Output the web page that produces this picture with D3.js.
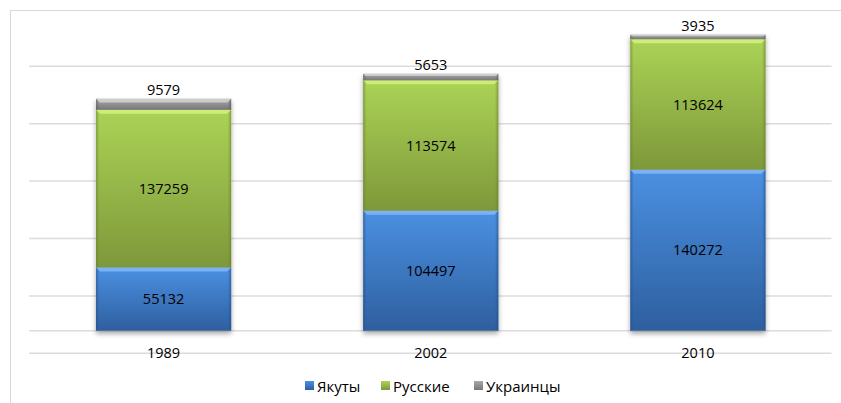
<!DOCTYPE html>
<html>
<head>
<meta charset="utf-8">
<script src="https://cdn.jsdelivr.net/npm/d3@7"></script>
<style>
  html, body { margin: 0; padding: 0; background: #fff; }
  svg { display: block; font-family: "Open Sans", "DejaVu Sans", sans-serif; }
</style>
</head>
<body>
<div id="chart"></div>
<script>
// ---------- Data ----------
const years     = ["1989", "2002", "2010"];
const seriesKeys = ["Якуты", "Русские", "Украинцы"];
const yakuts    = [55132, 104497, 140272];
const russians  = [137259, 113574, 113624];
const ukrainians = [9579, 5653, 3935];
const gridTicks = [0, 50000, 100000, 150000, 200000, 250000];

// ---------- Layout ----------
const width = 841, height = 403;
const plot = { left: 30, right: 831.5, base: 330.7, top: 43.7 };
const FLOOR_SHIFT = 22.6; // back-wall gridlines sit lower than the bars (3D look)

const palette = {
  "Якуты":    { top: "#4b90e2", bottom: "#2e5f9f", light: "#7fb6f5", dark: "#244d85" },
  "Русские":  { top: "#abd356", bottom: "#7e983a", light: "#d2f07c", dark: "#657d2a" },
  "Украинцы": { top: "#a8a8a8", bottom: "#777777", light: "#d0d0d0", dark: "#555555" }
};

const rows = years.map((y, i) => ({
  year: y,
  "Якуты": yakuts[i],
  "Русские": russians[i],
  "Украинцы": ukrainians[i]
}));

const stacked = d3.stack().keys(seriesKeys)(rows);

// ---------- Scales ----------
const x = d3.scaleBand()
  .domain(years)
  .range([plot.left, plot.right])
  .paddingInner(0.494)
  .paddingOuter(0.247);

const y = d3.scaleLinear()
  .domain([0, 250000])
  .range([plot.base, plot.top]);

// ---------- SVG ----------
const svg = d3.select("#chart").append("svg")
  .attr("width", width)
  .attr("height", height);

const defs = svg.append("defs");

seriesKeys.forEach((k, i) => {
  const c = palette[k];
  const grad = defs.append("linearGradient")
    .attr("id", `grad${i}`)
    .attr("x1", 0).attr("y1", 0).attr("x2", 0).attr("y2", 1);
  grad.append("stop").attr("offset", "0%").attr("stop-color", c.top);
  grad.append("stop").attr("offset", "100%").attr("stop-color", c.bottom);

  const side = defs.append("linearGradient")
    .attr("id", `side${i}`)
    .attr("x1", 0).attr("y1", 0).attr("x2", 1).attr("y2", 0);
  side.append("stop").attr("offset", "0%").attr("stop-color", c.dark).attr("stop-opacity", 0.55);
  side.append("stop").attr("offset", "2.5%").attr("stop-color", c.dark).attr("stop-opacity", 0);
  side.append("stop").attr("offset", "97.5%").attr("stop-color", c.dark).attr("stop-opacity", 0);
  side.append("stop").attr("offset", "100%").attr("stop-color", c.dark).attr("stop-opacity", 0.6);
});

const shadow = defs.append("filter")
  .attr("id", "shadow")
  .attr("x", "-10%").attr("y", "-10%")
  .attr("width", "120%").attr("height", "120%");
shadow.append("feDropShadow")
  .attr("dx", 0).attr("dy", 3)
  .attr("stdDeviation", 2.5)
  .attr("flood-color", "#000")
  .attr("flood-opacity", 0.35);

// outer frame
svg.append("rect")
  .attr("x", 10.5).attr("y", 10.5)
  .attr("width", 840).attr("height", 400)
  .attr("fill", "none")
  .attr("stroke", "#d9d9d9");

// ---------- Gridlines ----------
svg.append("g")
  .selectAll("line")
  .data(gridTicks)
  .join("line")
  .attr("x1", plot.left - 1)
  .attr("x2", plot.right)
  .attr("y1", d => y(d) + FLOOR_SHIFT)
  .attr("y2", d => y(d) + FLOOR_SHIFT)
  .attr("stroke", "#dcdcdc")
  .attr("stroke-width", 1.5);

// floor front edge
svg.append("line")
  .attr("x1", plot.left - 1)
  .attr("x2", plot.right)
  .attr("y1", y(0))
  .attr("y2", y(0))
  .attr("stroke", "#dcdcdc")
  .attr("stroke-width", 1.5);

// ---------- Bars ----------
const barsG = svg.append("g").attr("filter", "url(#shadow)");

stacked.forEach((layer, li) => {
  const c = palette[layer.key];
  const g = barsG.append("g").attr("class", "series");

  g.selectAll("rect.fill")
    .data(layer)
    .join("rect")
    .attr("class", "fill")
    .attr("x", d => x(d.data.year))
    .attr("width", x.bandwidth())
    .attr("y", d => y(d[1]))
    .attr("height", d => y(d[0]) - y(d[1]))
    .attr("fill", `url(#grad${li})`);

  // side shading
  g.selectAll("rect.side")
    .data(layer)
    .join("rect")
    .attr("class", "side")
    .attr("x", d => x(d.data.year))
    .attr("width", x.bandwidth())
    .attr("y", d => y(d[1]))
    .attr("height", d => y(d[0]) - y(d[1]))
    .attr("fill", `url(#side${li})`);

  // top bevel highlight
  g.selectAll("path.bevel")
    .data(layer)
    .join("path")
    .attr("class", "bevel")
    .attr("d", d => {
      const x0 = x(d.data.year), x1 = x0 + x.bandwidth();
      const t = y(d[1]);
      const b = Math.min(4, (y(d[0]) - t) / 3);
      return `M${x0},${t}L${x1},${t}L${x1 - b},${t + b}L${x0 + b},${t + b}Z`;
    })
    .attr("fill", c.light)
    .attr("opacity", 0.9);
});

// ---------- Value labels ----------
const labels = svg.append("g")
  .attr("font-size", 14.5)
  .attr("fill", "#000")
  .attr("text-anchor", "middle");

stacked.forEach(layer => {
  const isTop = layer.key === "Украинцы";
  labels.selectAll(null)
    .data(layer)
    .join("text")
    .attr("x", d => x(d.data.year) + x.bandwidth() / 2)
    .attr("y", d => isTop ? y(d[1]) - 4 : (y(d[0]) + y(d[1])) / 2)
    .attr("dy", isTop ? 0 : "0.35em")
    .text(d => d.data[layer.key]);
});

// ---------- Category axis ----------
svg.append("g")
  .attr("font-size", 14.5)
  .attr("fill", "#000")
  .attr("text-anchor", "middle")
  .selectAll("text")
  .data(years)
  .join("text")
  .attr("x", d => x(d) + x.bandwidth() / 2)
  .attr("y", 358)
  .text(d => d);

// ---------- Legend ----------
const legendItems = [
  { key: "Якуты", x: 305 },
  { key: "Русские", x: 381 },
  { key: "Украинцы", x: 474 }
];

const legend = svg.append("g").attr("class", "legend");

legend.selectAll("rect")
  .data(legendItems)
  .join("rect")
  .attr("x", d => d.x)
  .attr("y", 381)
  .attr("width", 9)
  .attr("height", 9)
  .attr("fill", (d, i) => `url(#grad${seriesKeys.indexOf(d.key)})`);

legend.selectAll("text")
  .data(legendItems)
  .join("text")
  .attr("x", d => d.x + 12)
  .attr("y", 391.5)
  .attr("font-size", 15)
  .attr("fill", "#000")
  .text(d => d.key);
</script>
</body>
</html>
